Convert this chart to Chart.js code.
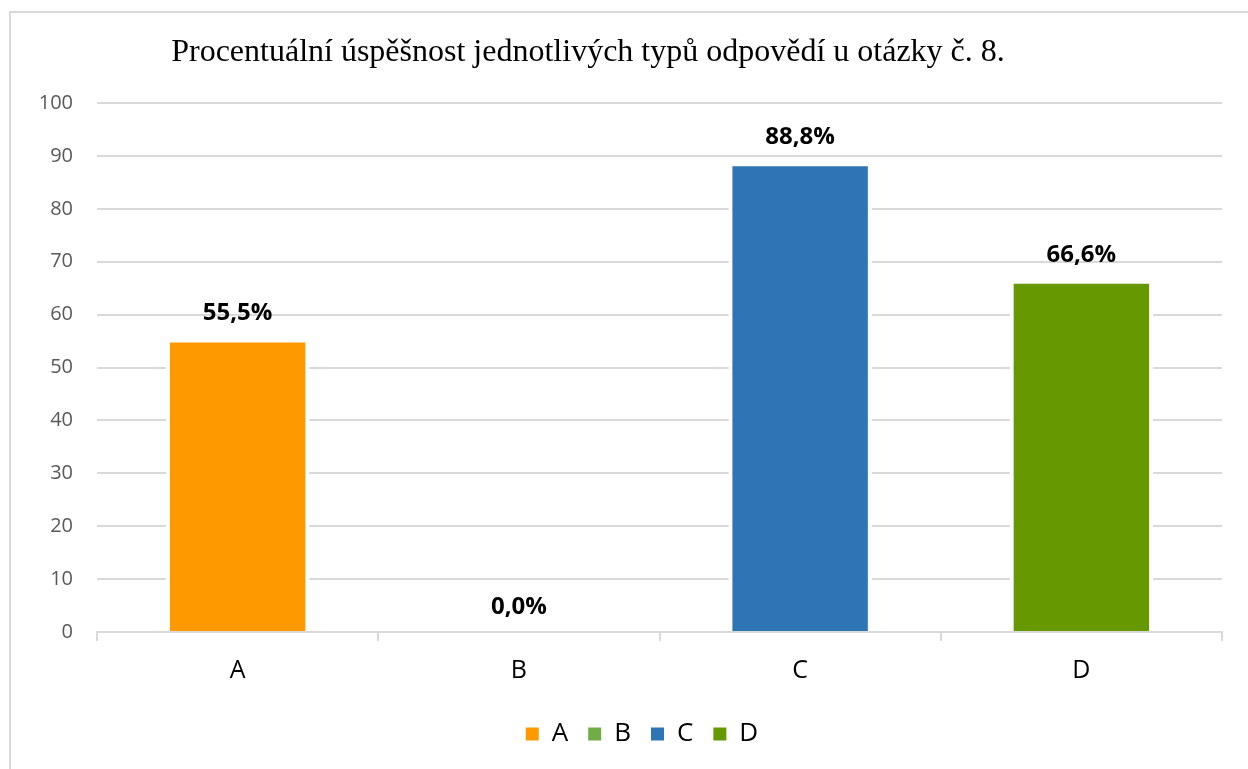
<!DOCTYPE html>
<html>
<head>
<meta charset="utf-8">
<script src="https://cdn.jsdelivr.net/npm/chart.js@4/dist/chart.umd.min.js"></script>
<style>
  html, body { margin: 0; padding: 0; background: #fff; overflow: hidden; }
  #frame { position: absolute; left: 9px; top: 11px; width: 1300px; height: 820px; border: 2px solid #d9d9d9; }
  #wrap { position: absolute; left: 0; top: 0; width: 1248px; height: 769px; }
</style>
</head>
<body>
<div id="frame"></div>
<div id="wrap"><canvas id="chart"></canvas></div>
<script>
document.addEventListener("DOMContentLoaded", function() {
    // data
    var titleText = 'Procentuální úspěšnost jednotlivých typů odpovědí u otázky č. 8.';
    var categories = ['A', 'B', 'C', 'D'];
    var seriesNames = ['A', 'B', 'C', 'D'];
    var values = [55.5, 0, 88.8, 66.6];
    var colors = ['#ff9900', '#70ad47', '#2e75b6', '#669900'];
    var yTicks = [0, 10, 20, 30, 40, 50, 60, 70, 80, 90, 100];

    // one dataset per answer type, each sitting on its own category
    var datasets = seriesNames.map(function(name, i) {
        var data = categories.map(function(c, j) { return j === i ? values[i] : null; });
        return {
            label: name,
            data: data,
            backgroundColor: colors[i],
            borderColor: '#ffffff',
            borderWidth: 4,
            borderSkipped: 'start'
        };
    });

    // title drawn at its own spot (it is not centred over the page)
    var titlePlugin = {
        id: 'titleText',
        afterDraw: function(chart) {
            var ctx = chart.ctx;
            ctx.save();
            ctx.font = '32px "Liberation Serif", "Times New Roman", serif';
            ctx.fillStyle = '#000';
            ctx.textAlign = 'center';
            ctx.textBaseline = 'middle';
            ctx.fillText(titleText, 588, 53);
            ctx.restore();
        }
    };

    // legend sits a bit right of the page centre
    var legendShift = {
        id: 'legendShift',
        afterLayout: function(chart) {
            chart.legend.left += 31;
            chart.legend.right += 31;
            chart.legend.top -= 2;
            chart.legend.bottom -= 2;
        }
    };

    // value labels above each bar
    var labelPlugin = {
        id: 'valueLabels',
        afterDatasetsDraw: function(chart) {
            var ctx = chart.ctx;
            ctx.save();
            ctx.font = 'bold 24px "Open Sans", sans-serif';
            ctx.fillStyle = '#000';
            ctx.textAlign = 'center';
            ctx.textBaseline = 'middle';
            chart.data.datasets.forEach(function(ds, i) {
                var meta = chart.getDatasetMeta(i);
                meta.data.forEach(function(bar, j) {
                    var v = ds.data[j];
                    if (v === null) return;
                    ctx.fillText(v.toFixed(1).replace('.', ',') + '%', bar.x, bar.y - 25);
                });
            });
            ctx.restore();
        }
    };

    var ctx = document.getElementById('chart').getContext('2d');
    var chart = new Chart(ctx, {
        type: 'bar',
        data: {
            labels: categories,
            datasets: datasets
        },
        options: {
            responsive: true,
            maintainAspectRatio: false,
            animation: false,
            layout: { padding: { top: 103, right: 26, left: 0, bottom: 10 } },
            datasets: { bar: { barPercentage: 0.51, categoryPercentage: 1.0 } },
            scales: {
                x: {
                    stacked: true,
                    afterFit: function(scale) { scale.height += 2; },
                    grid: { drawOnChartArea: false, drawTicks: true, tickLength: 9, color: '#d9d9d9', lineWidth: 2, offset: true },
                    border: { display: true, color: '#d9d9d9', width: 2 },
                    ticks: { color: '#000', font: { family: '"Open Sans", sans-serif', size: 25 }, padding: 15 }
                },
                y: {
                    stacked: true,
                    min: 0,
                    max: 100,
                    afterBuildTicks: function(scale) {
                        scale.ticks = yTicks.map(function(v) { return { value: v }; });
                    },
                    afterFit: function(scale) { scale.width = 97; },
                    grid: { color: '#d9d9d9', lineWidth: 2, drawTicks: false },
                    border: { display: false },
                    ticks: { color: '#595959', font: { family: '"Open Sans", sans-serif', size: 20 }, padding: 24 }
                }
            },
            plugins: {
                title: { display: false },
                tooltip: { enabled: false },
                legend: {
                    position: 'bottom',
                    labels: {
                        boxWidth: 13,
                        boxHeight: 13,
                        padding: 20,
                        color: '#000',
                        font: { family: '"Open Sans", sans-serif', size: 26 },
                        generateLabels: function(chart) {
                            return chart.data.datasets.map(function(ds, i) {
                                return {
                                    text: ds.label,
                                    fillStyle: ds.backgroundColor,
                                    strokeStyle: ds.backgroundColor,
                                    lineWidth: 0,
                                    fontColor: '#000',
                                    datasetIndex: i
                                };
                            });
                        }
                    }
                }
            }
        },
        plugins: [titlePlugin, legendShift, labelPlugin]
    });
});
</script>
</body>
</html>
